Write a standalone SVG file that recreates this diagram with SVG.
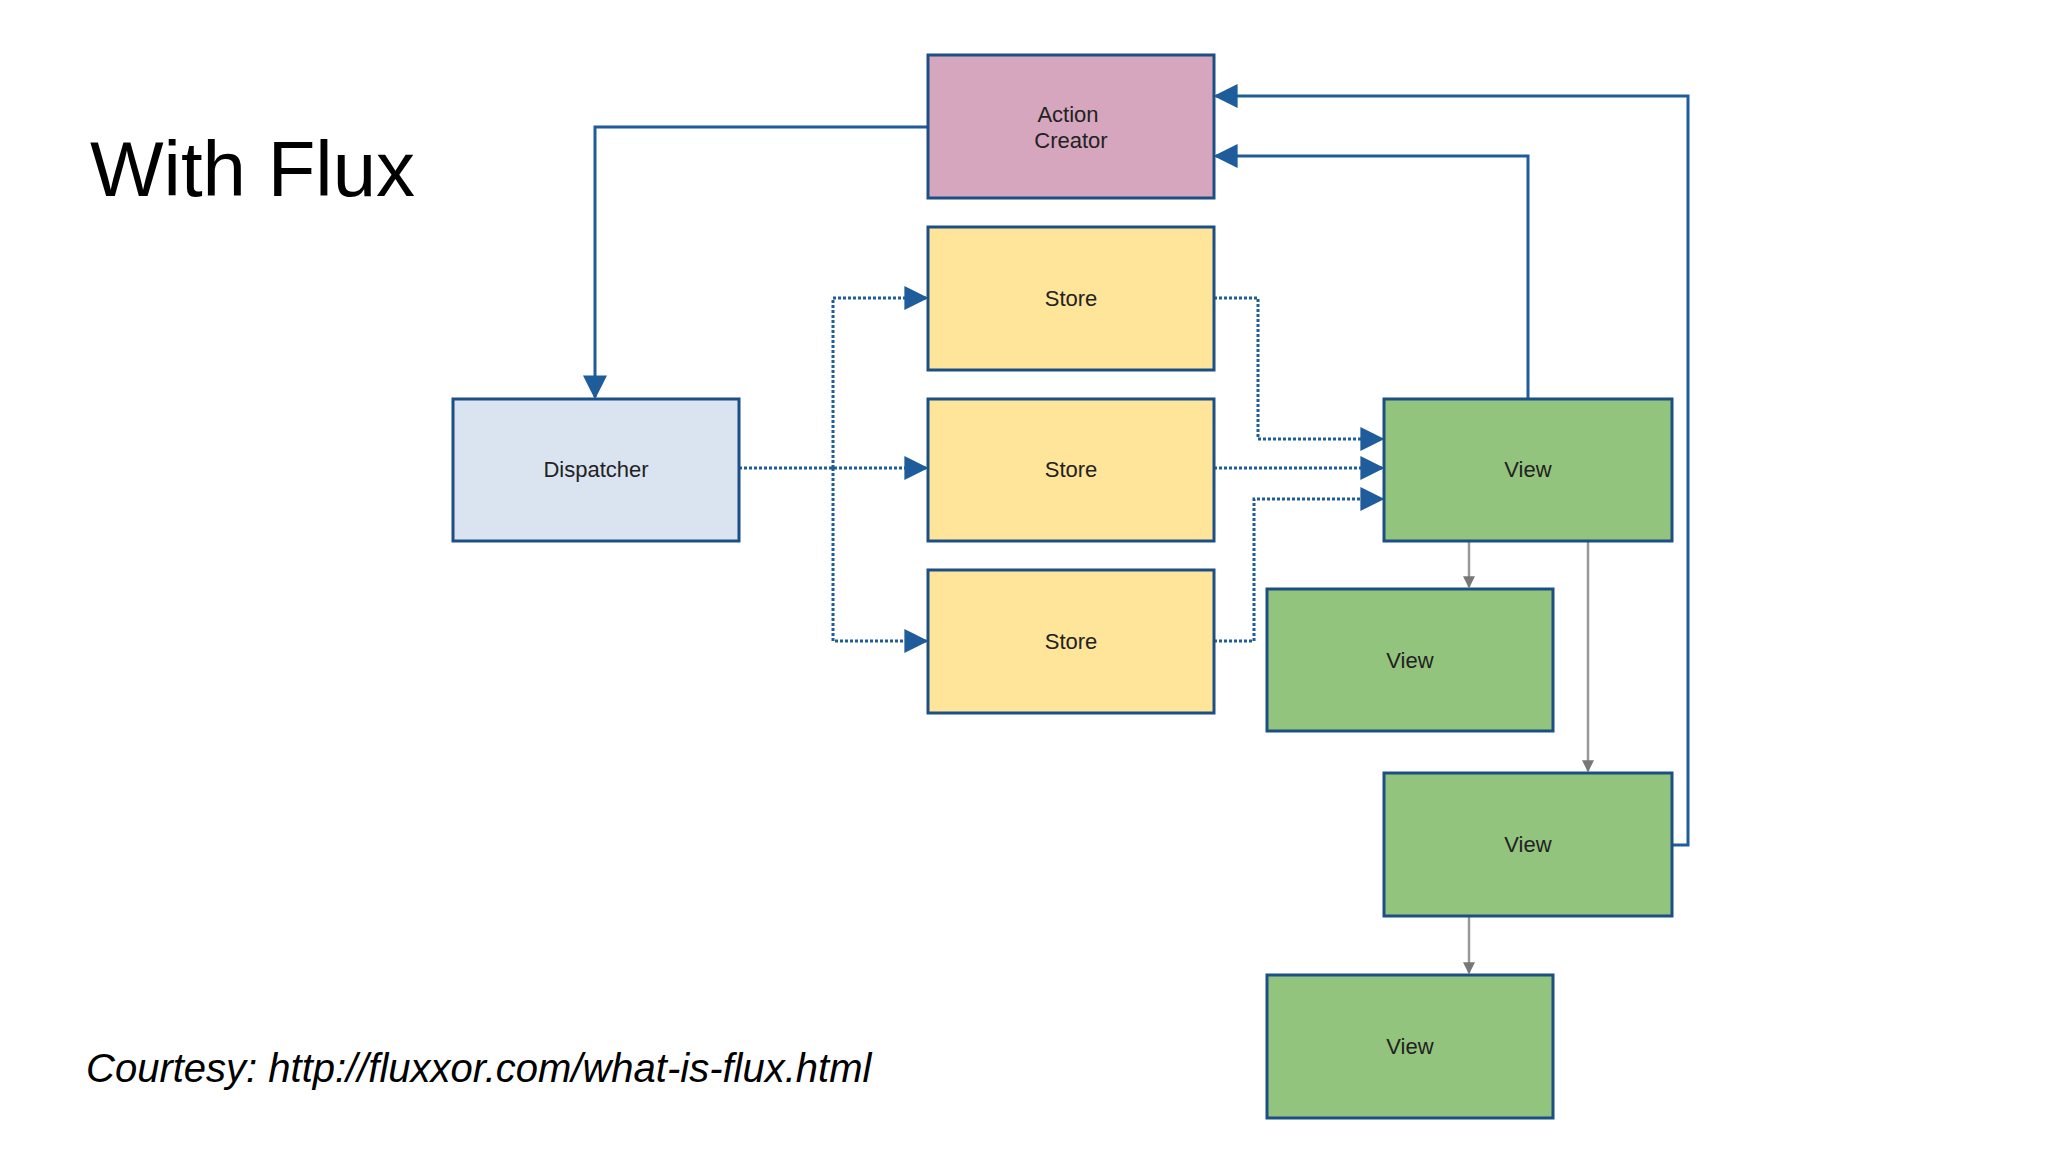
<svg xmlns="http://www.w3.org/2000/svg" width="2048" height="1152" viewBox="0 0 2048 1152">
<defs>
<style>
.n{stroke:#1c4f84;stroke-width:3}
.t{font-family:"Liberation Sans",Arial,sans-serif;font-size:22px;fill:#222;text-anchor:middle}
.b{fill:none;stroke:#1f5c9c;stroke-width:3}
.d{fill:none;stroke:#1f5c9c;stroke-width:3;stroke-dasharray:3 2}
.g{fill:none;stroke:#999;stroke-width:2.5}
</style>
<marker id="a" viewBox="0 0 10 10" refX="9" refY="5" markerWidth="8" markerHeight="8" markerUnits="userSpaceOnUse" orient="auto"><path d="M0,0L10,5L0,10z" fill="#1f5c9c"/></marker>
<marker id="ab" viewBox="0 0 10 10" refX="9" refY="5" markerWidth="24" markerHeight="24" markerUnits="userSpaceOnUse" orient="auto"><path d="M0,0L10,5L0,10z" fill="#1f5c9c"/></marker>
<marker id="ag" viewBox="0 0 10 10" refX="9" refY="5" markerWidth="12" markerHeight="12" markerUnits="userSpaceOnUse" orient="auto"><path d="M0,0L10,5L0,10z" fill="#777"/></marker>
</defs>
<rect width="2048" height="1152" fill="#fff"/>
<text x="90" y="196" font-family="Liberation Sans,Arial,sans-serif" font-size="78" fill="#000">With Flux</text>
<text x="86" y="1082" font-family="Liberation Sans,Arial,sans-serif" font-size="40" font-style="italic" fill="#000">Courtesy: http://fluxxor.com/what-is-flux.html</text>
<g id="connectors">
<path class="b" d="M928,127H595V397" marker-end="url(#ab)"/>
<path class="b" d="M1528,399V156H1216" marker-end="url(#ab)"/>
<path class="b" d="M1672,845H1688V96H1216" marker-end="url(#ab)"/>
<path class="d" d="M739,468H926" marker-end="url(#ab)"/>
<path class="d" d="M833,468V298H926" marker-end="url(#ab)"/>
<path class="d" d="M833,468V641H926" marker-end="url(#ab)"/>
<path class="d" d="M1214,298H1258V439H1382" marker-end="url(#ab)"/>
<path class="d" d="M1214,468H1382" marker-end="url(#ab)"/>
<path class="d" d="M1214,641H1254V499H1382" marker-end="url(#ab)"/>
<path class="g" d="M1469,541V587" marker-end="url(#ag)"/>
<path class="g" d="M1588,541V771" marker-end="url(#ag)"/>
<path class="g" d="M1469,916V973" marker-end="url(#ag)"/>
</g>
<g id="action"><rect class="n" x="928" y="55" width="286" height="143" fill="#d5a6bd"/><text class="t" x="1068" y="122">Action</text><text class="t" x="1071" y="148">Creator</text></g>
<g id="store1"><rect class="n" x="928" y="227" width="286" height="143" fill="#ffe599"/><text class="t" x="1071" y="306">Store</text></g>
<g id="store2"><rect class="n" x="928" y="399" width="286" height="142" fill="#ffe599"/><text class="t" x="1071" y="477">Store</text></g>
<g id="store3"><rect class="n" x="928" y="570" width="286" height="143" fill="#ffe599"/><text class="t" x="1071" y="649">Store</text></g>
<g id="dispatcher"><rect class="n" x="453" y="399" width="286" height="142" fill="#dae3f0"/><text class="t" x="596" y="477">Dispatcher</text></g>
<g id="view1"><rect class="n" x="1384" y="399" width="288" height="142" fill="#93c47d"/><text class="t" x="1528" y="477">View</text></g>
<g id="view2"><rect class="n" x="1267" y="589" width="286" height="142" fill="#93c47d"/><text class="t" x="1410" y="668">View</text></g>
<g id="view3"><rect class="n" x="1384" y="773" width="288" height="143" fill="#93c47d"/><text class="t" x="1528" y="852">View</text></g>
<g id="view4"><rect class="n" x="1267" y="975" width="286" height="143" fill="#93c47d"/><text class="t" x="1410" y="1054">View</text></g>
</svg>
